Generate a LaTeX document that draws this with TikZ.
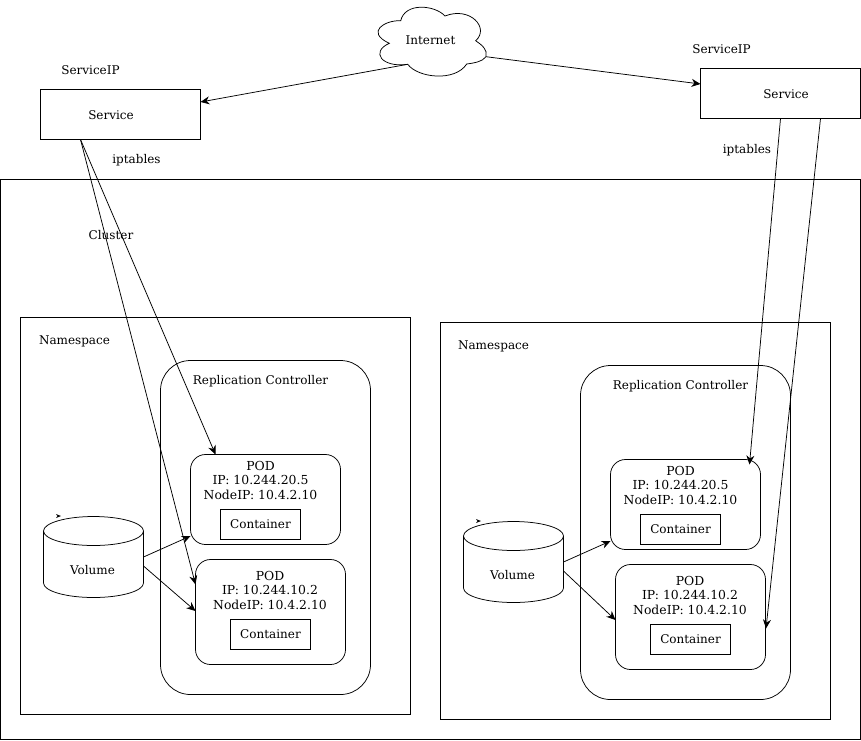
\documentclass[tikz,border=0pt]{standalone}
\usepackage{fontspec}
\setmainfont{DejaVu Serif}
\usepackage{tikz}
\usetikzlibrary{arrows.meta}
\tikzset{
  box/.style={draw,rectangle,inner sep=0pt},
  softbox/.style={box,rounded corners=15pt},
  ctrlbox/.style={box,rounded corners=30pt,minimum width=210pt},
  caption/.style={inner sep=0pt,align=center},
  podtext/.style={caption,font=\fontsize{12.4}{14.5}\selectfont},
  link/.style={draw,-{Stealth[length=9pt,width=8pt]}},
  drum/.pic={
    \draw (-50,-26) -- (-50,26) arc [start angle=180,end angle=0,x radius=50,y radius=14.5] -- (50,-26);
    \draw (0,-26) ellipse [x radius=50,y radius=14.5];
    \fill (-37.5,-43) -- (-32.5,-41) -- (-37.5,-39) -- (-36,-41) -- cycle;
  }
}
\begin{document}
\begin{tikzpicture}[x=1pt,y=-1pt,line width=0.75pt,font=\fontsize{12}{14.5}\selectfont]
      \useasboundingbox (0,0) rectangle (861,740);
      \begin{scope}
        \node[box,minimum width=860pt,minimum height=560pt] (cluster) at (430.5,459.5) {};
        \node[box,minimum width=390pt,minimum height=397pt] (nsA) at (215.5,516) {};
        \node[box,minimum width=390pt,minimum height=397pt] (nsB) at (635.5,521) {};
        \node[ctrlbox,minimum height=334pt] (rcA) at (265.5,527.5) {};
        \node[ctrlbox,minimum height=334pt] (rcB) at (685.5,532.5) {};
        \node[box,minimum width=160pt,minimum height=50pt] (svcA) at (120.5,114.5) {};
        \node[box,minimum width=160pt,minimum height=50pt] (svcB) at (780.5,93.5) {};
        \node[softbox,minimum width=150pt,minimum height=90pt] (podA) at (265.5,499.5) {};
        \node[softbox,minimum width=150pt,minimum height=105pt] (podB) at (270.5,612) {};
        \node[softbox,minimum width=150pt,minimum height=90pt] (podC) at (685.5,504.5) {};
        \node[softbox,minimum width=150pt,minimum height=105pt] (podD) at (690.5,617) {};
        \node[box,minimum width=80pt,minimum height=30pt] (ctrA) at (260.5,524.5) {Container};
        \node[box,minimum width=80pt,minimum height=30pt] (ctrB) at (270.5,634.5) {Container};
        \node[box,minimum width=80pt,minimum height=30pt] (ctrC) at (680.5,529.5) {Container};
        \node[box,minimum width=80pt,minimum height=30pt] (ctrD) at (690.5,639.5) {Container};
      \end{scope}
      \pic at (93.5,557) {drum};
      \pic at (513.5,562) {drum};
      % cloud
      \coordinate (cloudA) at (407.7,64.3);
      \coordinate (cloudB) at (466.7,64);
      \coordinate (cloudC) at (486,56.7);
      \coordinate (cloudD) at (475.7,40.7);
      \coordinate (cloudE) at (445,16);
      \coordinate (cloudF) at (400.7,20.7);
      \coordinate (cloudG) at (389.3,43.3);
      \draw (cloudA) .. controls (418,78) and (455,82) .. (cloudB)
        .. controls (474,63) and (482,62) .. (cloudC)
        .. controls (488,50) and (482,45) .. (cloudD)
        .. controls (490,28) and (470,6) .. (cloudE)
        .. controls (435,5) and (405,2) .. (cloudF)
        .. controls (385,20) and (365,32) .. (cloudG)
        .. controls (370,52) and (382,68) .. (cloudA);
      \begin{scope}[every node/.style={caption}]
        \node (internet) at (430.5,40) {Internet};
        \node (ipA) at (90.5,70) {ServiceIP};
        \node (ipB) at (721.5,49) {ServiceIP};
        \node (svcTextA) at (111,115) {Service};
        \node (svcTextB) at (786,94) {Service};
        \node (tabA) at (136.5,160) {iptables};
        \node (tabB) at (747,150) {iptables};
        \node (clusterText) at (111,235) {Cluster};
        \node (nsTextA) at (74.5,341) {Namespace};
        \node (nsTextB) at (493.5,346) {Namespace};
        \node (rcTextA) at (260.5,381) {Replication Controller};
        \node (rcTextB) at (680.5,386) {Replication Controller};
        \node (volA) at (92.5,570) {Volume};
        \node (volB) at (512.5,575) {Volume};
      \end{scope}
      \begin{scope}[every node/.style={podtext}]
        \node (podTextA) at (260.5,480) {POD\\IP: 10.244.20.5\\NodeIP: 10.4.2.10};
        \node (podTextB) at (270,590) {POD\\IP: 10.244.10.2\\NodeIP: 10.4.2.10};
        \node (podTextC) at (680.5,485) {POD\\IP: 10.244.20.5\\NodeIP: 10.4.2.10};
        \node (podTextD) at (690,595) {POD\\IP: 10.244.10.2\\NodeIP: 10.4.2.10};
      \end{scope}
      \coordinate (svcAin) at (200.5,102);
      \coordinate (svcBin) at (700.5,84);
      \coordinate (svcAout) at (80.5,139.5);
      \coordinate (svcBoutA) at (780.5,118.5);
      \coordinate (svcBoutB) at (820.5,118.5);
      \coordinate (podAin) at (215.5,454.5);
      \coordinate (podBin) at (195.5,584.5);
      \coordinate (podCin) at (749.5,464.5);
      \coordinate (podDin) at (766,628.5);
      \coordinate (volAoutA) at (143.5,557);
      \coordinate (volAoutB) at (143.5,566);
      \coordinate (volBoutA) at (563.5,562);
      \coordinate (volBoutB) at (563.5,571);
      \coordinate (podAvol) at (190.5,536);
      \coordinate (podBvol) at (195.5,611);
      \coordinate (podCvol) at (610.5,541);
      \coordinate (podDvol) at (615.5,620);
      \begin{scope}[every edge/.style={link}]
        \path (cloudA) edge (svcAin);
        \path (cloudC) edge (svcBin);
        \path (svcAout) edge (podAin);
        \path (svcAout) edge (podBin);
        \path (svcBoutA) edge (podCin);
        \path (svcBoutB) edge (podDin);
        \path (volAoutA) edge (podAvol);
        \path (volAoutB) edge (podBvol);
        \path (volBoutA) edge (podCvol);
        \path (volBoutB) edge (podDvol);
      \end{scope}
\end{tikzpicture}
\end{document}
